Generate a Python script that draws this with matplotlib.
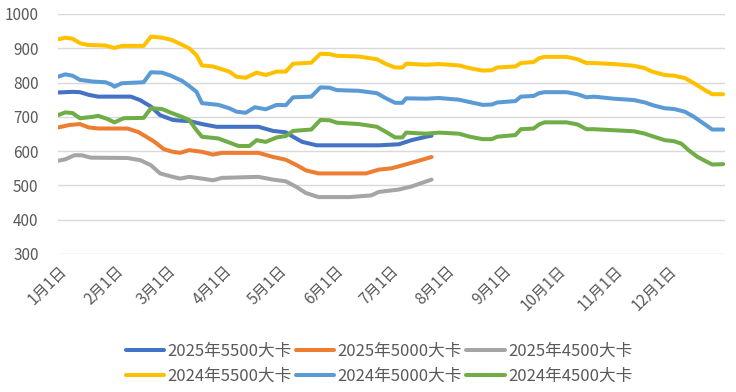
import pandas as pd
import matplotlib.pyplot as plt
import matplotlib.dates as mdates

plt.rcParams['font.family'] = ['Noto Sans CJK SC', 'DejaVu Sans']

# 2025 series (month-day, price)
d25_5500 = ['01-01', '01-09', '01-13', '01-18', '01-23', '02-10', '02-15', '02-21', '02-26', '03-04',
            '03-08', '03-13', '03-20', '03-28', '04-20', '04-28', '05-05', '05-09', '05-14', '05-22',
            '06-25', '07-06', '07-13', '07-21', '07-24']
v25_5500 = [771, 773, 772, 764, 759, 759, 749, 730, 705, 691,
            689, 688, 679, 671, 671, 659, 655, 642, 627, 617,
            617, 620, 632, 642, 645]

d25_5000 = ['01-01', '01-07', '01-13', '01-18', '01-23', '02-08', '02-14', '02-20', '02-23', '02-28',
            '03-04', '03-08', '03-13', '03-20', '03-26', '03-31', '04-20', '04-28', '05-05', '05-11',
            '05-16', '05-23', '06-18', '06-25', '07-02', '07-09', '07-17', '07-24']
v25_5000 = [669, 676, 679, 669, 666, 666, 656, 637, 627, 606,
            598, 595, 603, 598, 590, 595, 595, 583, 575, 559,
            544, 535, 535, 546, 550, 560, 572, 583]

d25_4500 = ['01-01', '01-05', '01-10', '01-14', '01-19', '02-08', '02-15', '02-21', '02-26', '03-04',
            '03-08', '03-13', '03-20', '03-26', '03-31', '04-20', '04-28', '05-05', '05-11', '05-16',
            '05-23', '06-09', '06-21', '06-25', '07-06', '07-13', '07-24']
v25_4500 = [572, 576, 588, 588, 581, 580, 574, 559, 535, 525,
            520, 525, 520, 515, 522, 525, 517, 512, 495, 478,
            466, 466, 471, 481, 488, 497, 517]

# 2024 series
d24_5500 = ['01-01', '01-05', '01-09', '01-13', '01-17', '01-27', '02-01', '02-05', '02-17', '02-21',
            '02-27', '03-03', '03-08', '03-13', '03-17', '03-20', '03-26', '04-04', '04-08', '04-13',
            '04-19', '04-24', '04-30', '05-05', '05-09', '05-19', '05-24', '05-29', '06-02', '06-14',
            '06-24', '06-29', '07-04', '07-08', '07-10', '07-21', '07-28', '08-08', '08-14', '08-21',
            '08-26', '08-29', '09-08', '09-11', '09-18', '09-21', '09-24', '10-06', '10-12', '10-17',
            '10-21', '11-01', '11-12', '11-18', '11-22', '11-29', '12-04', '12-10', '12-15', '12-21',
            '12-25', '12-31']
v24_5500 = [926, 931, 928, 915, 910, 908, 901, 907, 907, 934,
            931, 925, 913, 900, 880, 850, 847, 832, 817, 814,
            829, 822, 832, 832, 855, 858, 884, 883, 878, 876,
            868, 854, 844, 844, 855, 852, 854, 850, 842, 835,
            836, 844, 847, 857, 860, 871, 875, 875, 868, 857,
            857, 854, 849, 842, 832, 822, 820, 813, 798, 778,
            766, 766]

d24_5000 = ['01-01', '01-05', '01-09', '01-13', '01-20', '01-27', '01-30', '02-01', '02-05', '02-17',
            '02-21', '02-27', '03-03', '03-09', '03-13', '03-17', '03-20', '03-29', '04-04', '04-08',
            '04-13', '04-18', '04-24', '04-30', '05-05', '05-09', '05-19', '05-24', '05-29', '06-02',
            '06-14', '06-24', '06-29', '07-04', '07-08', '07-10', '07-21', '07-28', '08-08', '08-14',
            '08-21', '08-26', '08-29', '09-08', '09-11', '09-18', '09-21', '09-24', '10-06', '10-12',
            '10-17', '10-21', '11-01', '11-12', '11-18', '11-23', '11-29', '12-04', '12-10', '12-15',
            '12-21', '12-25', '12-31']
v24_5000 = [817, 824, 820, 808, 803, 801, 795, 788, 798, 801,
            830, 829, 820, 805, 790, 773, 740, 735, 725, 715,
            712, 728, 722, 735, 734, 757, 759, 786, 785, 778,
            776, 769, 754, 741, 741, 754, 753, 755, 750, 743,
            735, 736, 742, 746, 759, 761, 769, 772, 772, 766,
            757, 759, 753, 749, 742, 733, 725, 723, 715, 700,
            678, 663, 663]

d24_4500 = ['01-01', '01-05', '01-09', '01-13', '01-20', '01-23', '01-28', '02-01', '02-06', '02-17',
            '02-21', '02-27', '03-03', '03-09', '03-13', '03-17', '03-20', '03-29', '04-04', '04-09',
            '04-15', '04-19', '04-24', '04-30', '05-05', '05-09', '05-19', '05-24', '05-29', '06-02',
            '06-14', '06-24', '06-29', '07-04', '07-08', '07-10', '07-21', '07-28', '08-08', '08-14',
            '08-21', '08-26', '08-29', '09-08', '09-11', '09-18', '09-21', '09-24', '10-06', '10-12',
            '10-17', '10-21', '11-01', '11-12', '11-18', '11-23', '11-29', '12-04', '12-08', '12-12',
            '12-17', '12-22', '12-25', '12-31']
v24_4500 = [705, 713, 711, 696, 700, 703, 694, 684, 696, 697,
            725, 723, 712, 700, 691, 661, 642, 637, 625, 615,
            615, 632, 627, 640, 644, 659, 663, 691, 690, 683,
            679, 671, 656, 640, 640, 654, 651, 654, 651, 642,
            635, 635, 642, 647, 664, 666, 678, 684, 684, 678,
            664, 664, 661, 658, 651, 642, 632, 629, 622, 603,
            583, 569, 561, 562]

series = [
    ('2025年5500大卡', d25_5500, v25_5500, '#4472C4'),
    ('2025年5000大卡', d25_5000, v25_5000, '#ED7D31'),
    ('2025年4500大卡', d25_4500, v25_4500, '#A5A5A5'),
    ('2024年5500大卡', d24_5500, v24_5500, '#FFC000'),
    ('2024年5000大卡', d24_5000, v24_5000, '#5B9BD5'),
    ('2024年4500大卡', d24_4500, v24_4500, '#70AD47'),
]

fig = plt.figure(figsize=(7.36, 3.92), dpi=100)
ax = fig.add_axes([58 / 736, 1 - 254 / 392, 667 / 736, 240 / 392])

handles = []
for name, dates, vals, color in series:
    x = pd.to_datetime(['2024-' + d for d in dates])
    h, = ax.plot(x, vals, color=color, lw=2.9, label=name, solid_capstyle='round')
    handles.append(h)

ax.set_ylim(300, 1000)
ax.set_yticks(range(300, 1001, 100))
ax.set_xlim(pd.Timestamp('2024-01-01'), pd.Timestamp('2025-01-01'))
ticks = pd.date_range('2024-01-01', periods=12, freq='MS')
ax.set_xticks(ticks)
ax.set_xticklabels([f'{t.month}月1日' for t in ticks], rotation=45, ha='right',
                   va='top', rotation_mode='anchor')

ax.grid(axis='y', color='#D9D9D9', lw=1)
ax.set_axisbelow(True)
for s in ax.spines.values():
    s.set_visible(False)
ax.tick_params(axis='both', length=0, colors='#595959', labelsize=11)
ax.tick_params(axis='y', pad=14)
ax.tick_params(axis='x', pad=6)

order = [0, 3, 1, 4, 2, 5]
leg = fig.legend([handles[i] for i in order], [series[i][0] for i in order],
                 loc='center', bbox_to_anchor=(0.515, 1 - 364 / 392), ncol=3,
                 frameon=False, fontsize=12, handlelength=2.3, handletextpad=0.2,
                 columnspacing=0.25, labelspacing=0.45)
for t in leg.get_texts():
    t.set_color('#595959')

fig.savefig('out.png', dpi=100)
